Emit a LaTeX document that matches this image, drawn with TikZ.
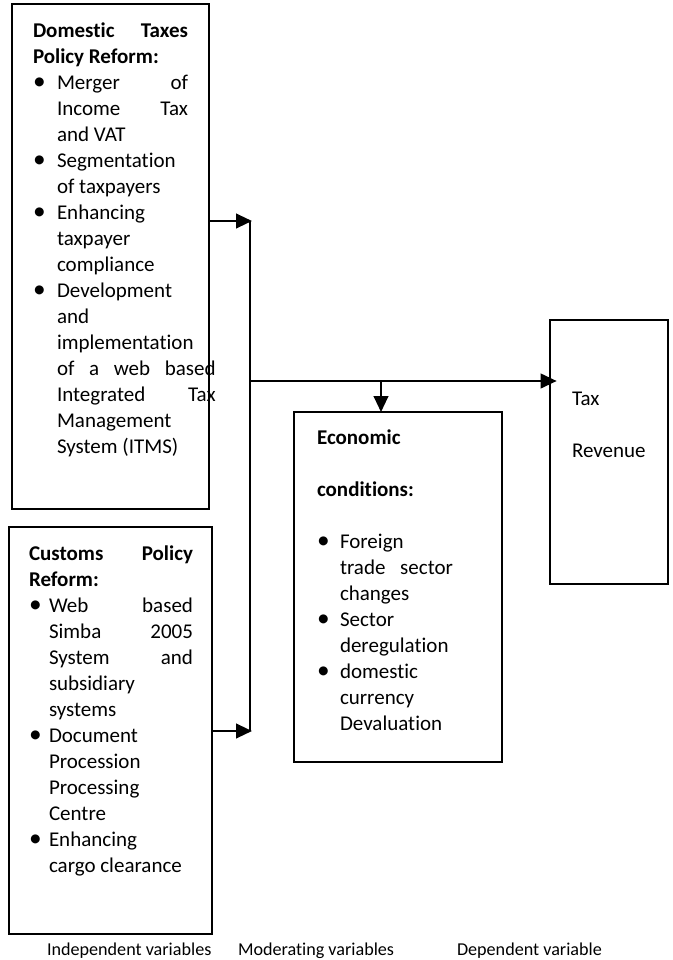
\documentclass[tikz,border=0pt]{standalone}
\usepackage{fontspec}
\setmainfont{Carlito}[Ligatures={NoCommon,NoContextual}]
\usetikzlibrary{arrows.meta}
\newcommand\bigbul{\raisebox{-0.4pt}{\fontsize{19}{19}\selectfont\textbullet}}
\newcommand\bitem[2]{\par\hangindent=#1\hangafter=1\noindent\makebox[#1][l]{\bigbul}\ignorespaces#2}
\newcommand\bodytxt{\fontsize{15.75}{19.5}\selectfont\hyphenpenalty=10000\exhyphenpenalty=10000\hbadness=10000\hfuzz=200pt\vbadness=10000}
\begin{document}
\begin{tikzpicture}[x=0.75pt,y=-0.75pt,
  box/.style={draw,line width=1.3pt,anchor=north west,inner sep=0pt,outer sep=0pt},
  lbl/.style={anchor=base west,inner sep=0pt,outer sep=0pt},
  conn/.style={line width=1.6pt},
  arr/.style={line width=1.6pt,-{Triangle[length=12pt,width=11pt]}}]
\useasboundingbox (0,0) rectangle (672,960);

% boxes
\node[box,minimum width=147.75pt,minimum height=378.75pt] (dom) at (12,4) {};
\node[box,minimum width=152.25pt,minimum height=305.25pt] (cus) at (9,527) {};
\node[box,minimum width=156pt,minimum height=262.5pt] (econ) at (294,412) {};
\node[box,minimum width=88.5pt,minimum height=198pt] (tax) at (550,320) {};

% texts
\node[lbl] (domtxt) at (33,37) {\parbox[t]{116.25pt}{\bodytxt
\textbf{Domestic Taxes\linebreak Policy Reform:}
\bitem{18pt}{Merger of\linebreak Income Tax\linebreak and VAT}
\bitem{18pt}{Segmentation\newline of taxpayers}
\bitem{18pt}{Enhancing\newline taxpayer\newline compliance}
\bitem{18pt}{Development\newline and\newline implementation\newline \hbox to 119pt{of\hfill a\hfill web\hfill based}\newline \hbox to 119pt{Integrated\hfill Tax}\newline Management\newline System (ITMS)}}};

\node[lbl] (custxt) at (29,560) {\parbox[t]{123pt}{\bodytxt
\textbf{Customs Policy\linebreak Reform:}
\bitem{15pt}{Web based\linebreak Simba 2005\linebreak System and\linebreak subsidiary\newline systems}
\bitem{15pt}{Document\newline Procession\newline Processing\newline Centre}
\bitem{15pt}{Enhancing\newline cargo clearance}}};

\node[lbl] (ecotxt) at (317,444) {\parbox[t]{102pt}{\bodytxt
\textbf{Economic}\\[19.5pt]
\textbf{conditions:}\par\vspace{19.5pt}
\bitem{17.25pt}{Foreign\newline trade sector\linebreak changes}
\bitem{17.25pt}{Sector\newline deregulation}
\bitem{17.25pt}{domestic\newline currency\newline Devaluation}}};

\node[lbl] (taxtxt) at (572,405) {\parbox[t]{80pt}{\bodytxt Tax\\[19.5pt]Revenue}};

% bottom labels
\node[lbl,font=\fontsize{13.6}{16}\selectfont] (l1) at (47,955) {Independent variables};
\node[lbl,font=\fontsize{13.6}{16}\selectfont] (l2) at (238,955) {Moderating variables};
\node[lbl,font=\fontsize{13.6}{16}\selectfont] (l3) at (457,955) {Dependent variable};

% connectors
\coordinate (j1) at (250,221);
\coordinate (j1t) at (252,221);
\coordinate (j2) at (250,731);
\coordinate (j2t) at (252,731);
\coordinate (j3) at (250,381);
\coordinate (j4) at (381,381);
\draw[arr] (dom.east |- j1) -- (j1t);
\draw[conn] (j1) -- (j2);
\draw[arr] (cus.east |- j2) -- (j2t);
\draw[arr,shorten >=-5pt] (j3) -- (tax.west |- j3);
\draw[arr] (j4) -- (econ.north -| j4);
\end{tikzpicture}
\end{document}
